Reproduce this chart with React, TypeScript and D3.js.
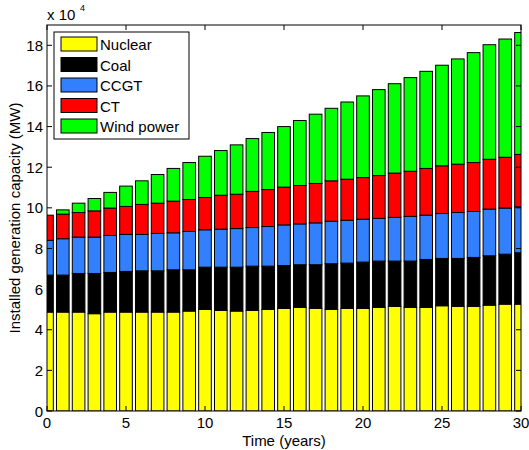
import React from "react";
import * as d3 from "d3";

// installed capacity per technology, in units of 10^4 MW
const years = d3.range(0, 31);
const nuclear = [4.87, 4.87, 4.87, 4.79, 4.87, 4.87, 4.87, 4.87, 4.87, 4.92, 5.0, 4.95, 4.92, 4.95, 5.0, 5.05, 5.1, 5.05, 5.0, 5.05, 5.05, 5.1, 5.15, 5.1, 5.1, 5.18, 5.15, 5.15, 5.21, 5.26, 5.26];
const coal = [1.82, 1.82, 1.9, 1.98, 1.95, 2.0, 2.03, 2.03, 2.08, 2.03, 2.08, 2.13, 2.16, 2.18, 2.13, 2.11, 2.1, 2.15, 2.25, 2.23, 2.28, 2.28, 2.23, 2.28, 2.36, 2.33, 2.36, 2.41, 2.43, 2.46, 2.53];
const ccgt = [1.71, 1.79, 1.79, 1.79, 1.82, 1.82, 1.79, 1.84, 1.82, 1.89, 1.84, 1.87, 1.9, 1.9, 1.95, 2.0, 2.01, 2.06, 2.09, 2.11, 2.11, 2.1, 2.15, 2.2, 2.18, 2.21, 2.26, 2.26, 2.3, 2.27, 2.26];
const ct = [1.24, 1.21, 1.21, 1.29, 1.35, 1.38, 1.48, 1.49, 1.56, 1.57, 1.59, 1.67, 1.69, 1.78, 1.82, 1.86, 1.89, 1.94, 1.99, 2.02, 2.05, 2.11, 2.18, 2.22, 2.3, 2.35, 2.38, 2.41, 2.45, 2.5, 2.58];
const wind = [0, 0.21, 0.46, 0.61, 0.77, 1.0, 1.16, 1.41, 1.61, 1.82, 2.03, 2.2, 2.43, 2.6, 2.81, 2.98, 3.2, 3.41, 3.57, 3.8, 4.02, 4.23, 4.4, 4.61, 4.78, 4.95, 5.18, 5.41, 5.64, 5.82, 6.0];

const seriesNames = ["Nuclear", "Coal", "CCGT", "CT", "Wind power"];
const seriesColors = ["#ffff00", "#000000", "#3380ff", "#ff0000", "#00ff00"];
const xTicks = [0, 5, 10, 15, 20, 25, 30];
const yTicks = [0, 2, 4, 6, 8, 10, 12, 14, 16, 18];

const W = 529, H = 450;
const left = 47, right = 521, top = 25, bottom = 411;
const font = "'Liberation Sans', Arial, Helvetica, sans-serif";
const fs = 15;

export default function App() {
  const x = d3.scaleLinear().domain([0, 30]).range([left, right]);
  const y = d3.scaleLinear().domain([0, 19]).range([bottom, top]);

  const rows = years.map((yr, i) => ({
    year: yr,
    Nuclear: nuclear[i],
    Coal: coal[i],
    CCGT: ccgt[i],
    CT: ct[i],
    "Wind power": wind[i],
  }));
  const stacked = d3.stack<any>().keys(seriesNames)(rows);
  const bw = (x(1) - x(0)) * 0.8;

  return (
    <svg width={W} height={H} style={{ position: "absolute", left: 0, top: 0, background: "#fff" }} fontFamily={font}>
      <defs>
        <clipPath id="plot">
          <rect x={left} y={top} width={right - left} height={bottom - top} />
        </clipPath>
      </defs>

      <g clipPath="url(#plot)">
        {stacked.map((s, si) => (
          <g key={s.key} fill={seriesColors[si]} stroke="#000" strokeWidth={1}>
            {s.map((d, i) =>
              d[1] - d[0] > 0 ? (
                <rect key={i} x={x(years[i]) - bw / 2} y={y(d[1])} width={bw} height={y(d[0]) - y(d[1])} />
              ) : null
            )}
          </g>
        ))}
      </g>

      {/* axes box */}
      <rect x={left} y={top} width={right - left} height={bottom - top} fill="none" stroke="#000" strokeWidth={1} />

      {xTicks.map((t) => (
        <g key={"x" + t}>
          <line x1={x(t)} x2={x(t)} y1={bottom} y2={bottom - 5} stroke="#000" />
          <line x1={x(t)} x2={x(t)} y1={top} y2={top + 5} stroke="#000" />
          <text x={x(t)} y={428} fontSize={fs} textAnchor="middle">{t}</text>
        </g>
      ))}
      {yTicks.map((t) => (
        <g key={"y" + t}>
          <line x1={left} x2={left + 5} y1={y(t)} y2={y(t)} stroke="#000" />
          <line x1={right} x2={right - 5} y1={y(t)} y2={y(t)} stroke="#000" />
          <text x={43} y={y(t) + 5.5} fontSize={fs} textAnchor="end">{t}</text>
        </g>
      ))}

      {/* exponent */}
      <text x={47} y={20} fontSize={fs}>x 10</text>
      <text x={80} y={11} fontSize={9}>4</text>

      <text x={(left + right) / 2} y={446} fontSize={fs} textAnchor="middle">Time (years)</text>
      <text transform={`translate(20,${(top + bottom) / 2}) rotate(-90)`} fontSize={fs} textAnchor="middle">
        Installed generation capacity (MW)
      </text>

      {/* legend */}
      <rect x={54} y={32} width={135} height={107} fill="#fff" stroke="#000" strokeWidth={1} />
      {seriesNames.map((n, i) => (
        <g key={n}>
          <rect x={61} y={37 + i * 20.5} width={36} height={14} fill={seriesColors[i]} stroke="#000" strokeWidth={1} />
          <text x={100} y={50 + i * 20.5} fontSize={fs}>{n}</text>
        </g>
      ))}
    </svg>
  );
}
